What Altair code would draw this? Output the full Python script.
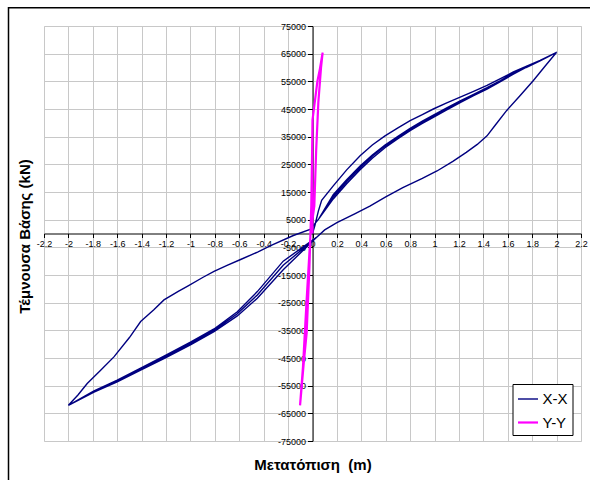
import altair as alt
import pandas as pd

# ---------------- data ----------------
# X-X hysteresis, built from its branches
start_x = [0.0, 0.02, 0.048, 0.075]
start_y = [0, 3000, 8100, 12000]

load_pos_x = [0.17, 0.28, 0.39, 0.49, 0.594, 0.7, 0.8, 0.9, 0.99, 1.1, 1.21, 1.32, 1.43, 1.54, 1.646, 1.75, 1.865, 2.0]
load_pos_y0 = [17200, 23000, 28100, 32000, 35300, 38200, 40800, 43000, 45000, 47200, 49300, 51400, 53500, 56000, 58400, 60400, 62600, 65500]
load_pos_y1 = [12500, 18000, 23000, 27200, 31000, 34300, 37200, 39800, 42000, 44700, 47300, 49800, 52200, 54900, 57600, 60000, 62400, 65500]
load_pos_y2 = [13300, 18800, 23800, 27900, 31600, 34800, 37700, 40300, 42500, 45100, 47700, 50100, 52500, 55100, 57800, 60100, 62500, 65500]
load_pos_y3 = [14000, 19400, 24400, 28400, 32000, 35100, 38000, 40600, 42800, 45400, 47900, 50300, 52700, 55300, 58000, 60300, 62600, 65500]

unload_pos_x = [2.0, 1.9, 1.81, 1.7, 1.59, 1.5, 1.43, 1.35, 1.26, 1.15, 1.02, 0.9, 0.74, 0.6, 0.47, 0.35, 0.2, 0.1, 0.03]
unload_pos_y = [65500, 60200, 55300, 49800, 44400, 39300, 35300, 32200, 29300, 26100, 22600, 19900, 16600, 13200, 9900, 7200, 3900, 1300, -1500]

load_neg_x = [-0.24, -0.452, -0.616, -0.807, -1.0, -1.217, -1.408, -1.6, -1.79, -2.0]
load_neg_y1 = [-13100, -23400, -29800, -35500, -40300, -45200, -49400, -53600, -57300, -62100]
load_neg_y2 = [-11500, -22200, -29000, -35000, -39800, -44700, -49000, -53300, -57100, -62100]
load_neg_y3 = [-10000, -21000, -28300, -34500, -39300, -44300, -48700, -53000, -56900, -62100]

unload_neg_x = [-2.0, -1.92, -1.846, -1.74, -1.627, -1.5, -1.408, -1.3, -1.217, -1.1, -1.026, -0.9, -0.807, -0.7, -0.589, -0.45, -0.343, -0.157, -0.02]
unload_neg_y = [-62100, -58300, -54200, -49600, -44600, -37600, -31800, -27600, -24000, -20900, -19100, -15900, -13700, -11500, -9400, -6700, -4400, -730, 1450]

reload_x = [0.05]
reload_y = [5200]

# Y-Y hysteresis (narrow loop)
yy_x = [0.0, -0.003, 0.0, 0.04, 0.061, 0.083, 0.07, 0.048, 0.03, 0.015, -0.016, -0.048,
        -0.078, -0.102, -0.07, -0.048, -0.025, -0.01, -0.003, 0.0, 0.04, 0.061, 0.083]
yy_y = [0, 30000, 41000, 55000, 59600, 65400, 60000, 47500, 30000, 10000, 0, -24000,
        -48200, -62100, -46000, -36000, -12000, 10000, 30000, 41000, 55000, 59600, 65400]

series_names = ["X-X", "Y-Y"]
series_colors = ["#000080", "#ff00ff"]

x_ticks = [round(-2.2 + 0.2 * i, 1) for i in range(23)]
y_ticks = [-75000 + 10000 * i for i in range(16)]

# ---------------- assemble table ----------------
xx_x, xx_y = [], []
xx_x += start_x + load_pos_x
xx_y += start_y + load_pos_y0
for ln_y, lp_y in [(load_neg_y1, load_pos_y1), (load_neg_y2, load_pos_y2), (load_neg_y3, load_pos_y3)]:
    xx_x += unload_pos_x + load_neg_x + unload_neg_x + reload_x + load_pos_x
    xx_y += unload_pos_y + ln_y + unload_neg_y + reload_y + lp_y

rows = []
for i, (a, b) in enumerate(zip(xx_x, xx_y)):
    rows.append({"x": a, "y": b, "series": "X-X", "order": i})
for i, (a, b) in enumerate(zip(yy_x, yy_y)):
    rows.append({"x": a, "y": b, "series": "Y-Y", "order": i})
df = pd.DataFrame(rows)

W, H = 537, 415
FONT = "Liberation Sans"

x_axis = alt.Axis(
    values=x_ticks, offset=-H / 2, labelExpr="datum.value + ''",
    labelFont=FONT, labelFontSize=9, labelColor="#000", labelOverlap=False,
    labelFlush=False, labelPadding=2, tickSize=4, tickColor="#000",
    domainColor="#000", gridColor="#c8c8c8", gridWidth=1,
    title="Μετατόπιση \u00a0(m)", titleFont=FONT, titleFontSize=15, titleFontWeight="bold",
    titleColor="#000", titleX=W / 2, titleY=438 - (H - H / 2), titleBaseline="middle",
    titleAlign="center",
)
y_axis = alt.Axis(
    values=y_ticks, offset=-W / 2, labelExpr="datum.value + ''",
    labelFont=FONT, labelFontSize=9, labelColor="#000", labelOverlap=False,
    labelFlush=False, labelPadding=2, tickSize=5, tickColor="#000",
    domainColor="#000", gridColor="#c8c8c8", gridWidth=1,
    title="Τέμνουσα Βάσης (kN)", titleFont=FONT, titleFontSize=15, titleFontWeight="bold",
    titleColor="#000", titleX=(24.5 - 44) - W / 2, titleY=236 - 26, titleAngle=270,
    titleBaseline="middle", titleAlign="center",
)

lines = alt.Chart(df).mark_line(clip=True).encode(
    x=alt.X("x:Q", scale=alt.Scale(domain=[-2.2, 2.2], nice=False, zero=False), axis=x_axis),
    y=alt.Y("y:Q", scale=alt.Scale(domain=[-75000, 75000], nice=False, zero=False), axis=y_axis),
    color=alt.Color(
        "series:N",
        scale=alt.Scale(domain=series_names, range=series_colors),
        legend=alt.Legend(
            title=None, orient="none", legendX=468.5, legendY=358,
            strokeColor="#000", fillColor="#fff", padding=4, cornerRadius=0,
            symbolType="stroke", symbolSize=400, symbolStrokeWidth=2,
            labelFont=FONT, labelFontSize=15, labelColor="#000", rowPadding=4,
            labelOffset=3,
        ),
    ),
    strokeWidth=alt.StrokeWidth(
        "series:N", scale=alt.Scale(domain=series_names, range=[1.4, 2.2]), legend=None
    ),
    order="order:Q",
)

frame = alt.Chart(pd.DataFrame({"a": [0]})).mark_rect(
    filled=False, stroke="#000", strokeWidth=1.5, clip=False
).encode(
    x=alt.value(-35.5), y=alt.value(-18.3), x2=alt.value(W + 100), y2=alt.value(H + 100)
)

chart = alt.layer(lines, frame).properties(
    width=W, height=H,
    autosize=alt.AutoSizeParams(type="none"),
    padding={"left": 44, "top": 26, "right": 590 - 44 - W, "bottom": 480 - 26 - H},
).configure_view(stroke="#333", strokeWidth=1.2).configure(background="white")

chart.save("out.html", embed_options={"renderer": "svg", "actions": False})
